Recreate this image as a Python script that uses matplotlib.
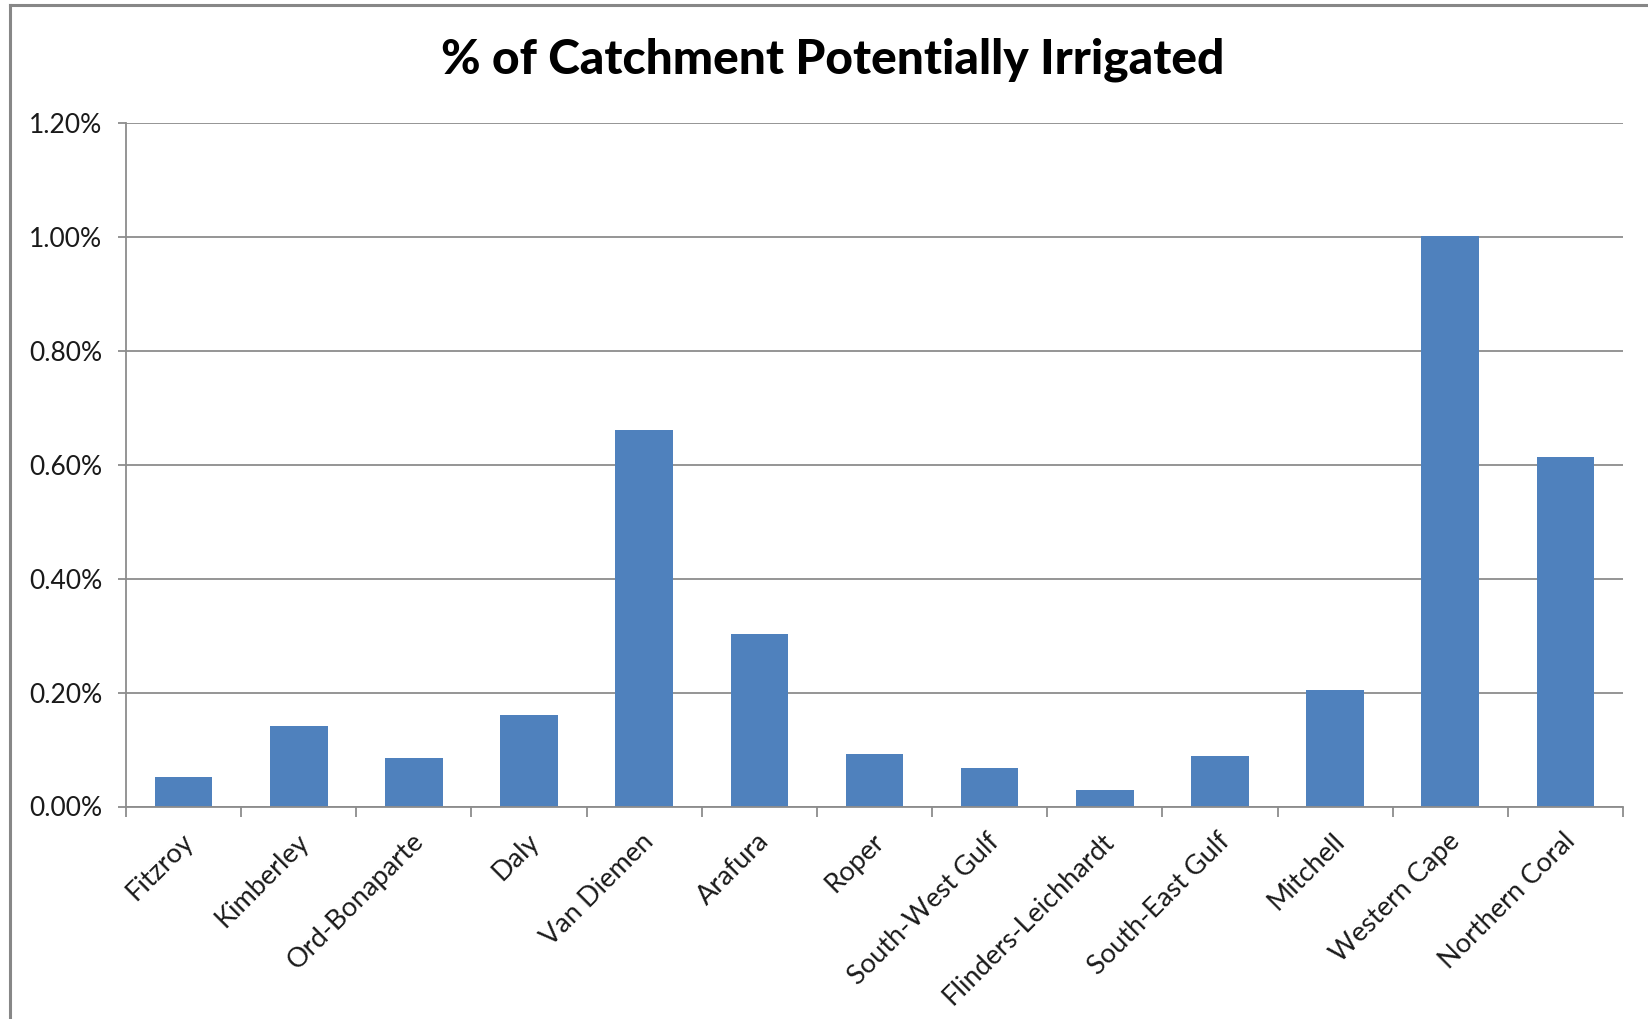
import matplotlib
matplotlib.use("Agg")
import matplotlib.pyplot as plt
from matplotlib.lines import Line2D
from matplotlib.ticker import FuncFormatter
import matplotlib.transforms as mtransforms

# Catchment regions and share of catchment area potentially irrigated (%)
regions = [
    "Fitzroy", "Kimberley", "Ord-Bonaparte", "Daly", "Van Diemen", "Arafura",
    "Roper", "South-West Gulf", "Flinders-Leichhardt", "South-East Gulf",
    "Mitchell", "Western Cape", "Northern Coral",
]
irrigated_pct = [
    0.051, 0.141, 0.086, 0.160, 0.661, 0.303,
    0.093, 0.067, 0.029, 0.089, 0.205, 1.001, 0.613,
]
y_ticks = [0.0, 0.2, 0.4, 0.6, 0.8, 1.0, 1.2]
title = "% of Catchment Potentially Irrigated"

plt.rcParams["font.family"] = ["Lato", "DejaVu Sans"]

W, H, DPI = 1649, 1019, 100
fig = plt.figure(figsize=(W / DPI, H / DPI), dpi=DPI)
fig.patch.set_facecolor("white")

left, right, top, bottom = 126, 1623, 123, 806.5
ax = fig.add_axes([left / W, 1 - bottom / H, (right - left) / W, (bottom - top) / H])

grey = "#8c8c8c"
x = list(range(len(regions)))
ax.bar(x, irrigated_pct, width=0.5, color="#4f81bd", zorder=3)

ax.set_xlim(-0.5, len(regions) - 0.5)
ax.set_ylim(y_ticks[0], y_ticks[-1])
ax.set_yticks(y_ticks)
ax.yaxis.set_major_formatter(FuncFormatter(lambda v, _: f"{v:.2f}%"))
ax.yaxis.grid(True, color=grey, linewidth=1.3, zorder=0)
ax.set_axisbelow(True)

for side in ("top", "right"):
    ax.spines[side].set_visible(False)
for side in ("left", "bottom"):
    ax.spines[side].set_color(grey)
    ax.spines[side].set_linewidth(1.3)
    ax.spines[side].set_zorder(4)

# category ticks sit between bars
ax.set_xticks([i - 0.5 for i in range(len(regions) + 1)], minor=False)
ax.set_xticklabels([])
ax.tick_params(axis="x", which="major", length=7.5, width=1.3, color=grey)
ax.set_xticks(x, minor=True)
ax.tick_params(axis="x", which="minor", length=0, pad=16)
ax.set_xticklabels(regions, minor=True, rotation=45, ha="right", va="top",
                   rotation_mode="anchor", fontsize=19.5, color="#1a1a1a")
offset = mtransforms.ScaledTranslation(-3 / DPI, 0, fig.dpi_scale_trans)
for lbl in ax.get_xticklabels(minor=True):
    lbl.set_transform(lbl.get_transform() + offset)

ax.tick_params(axis="y", length=6, width=1.3, color=grey, pad=11,
               labelsize=19, labelcolor="#1a1a1a")

fig.text(0.5 * (442 + 1223) / W, 1 - 60 / H, title, ha="center", va="center",
         fontsize=34.5, fontweight="black", color="black")

# outer chart frame (left and top edges)
fig.add_artist(Line2D([10 / W, 10 / W], [0, 1 - 5 / H], transform=fig.transFigure,
                      color="#878787", linewidth=2.2))
fig.add_artist(Line2D([10 / W, 1], [1 - 5 / H, 1 - 5 / H], transform=fig.transFigure,
                      color="#878787", linewidth=2.2))

fig.savefig("out.png", dpi=DPI, facecolor="white")
